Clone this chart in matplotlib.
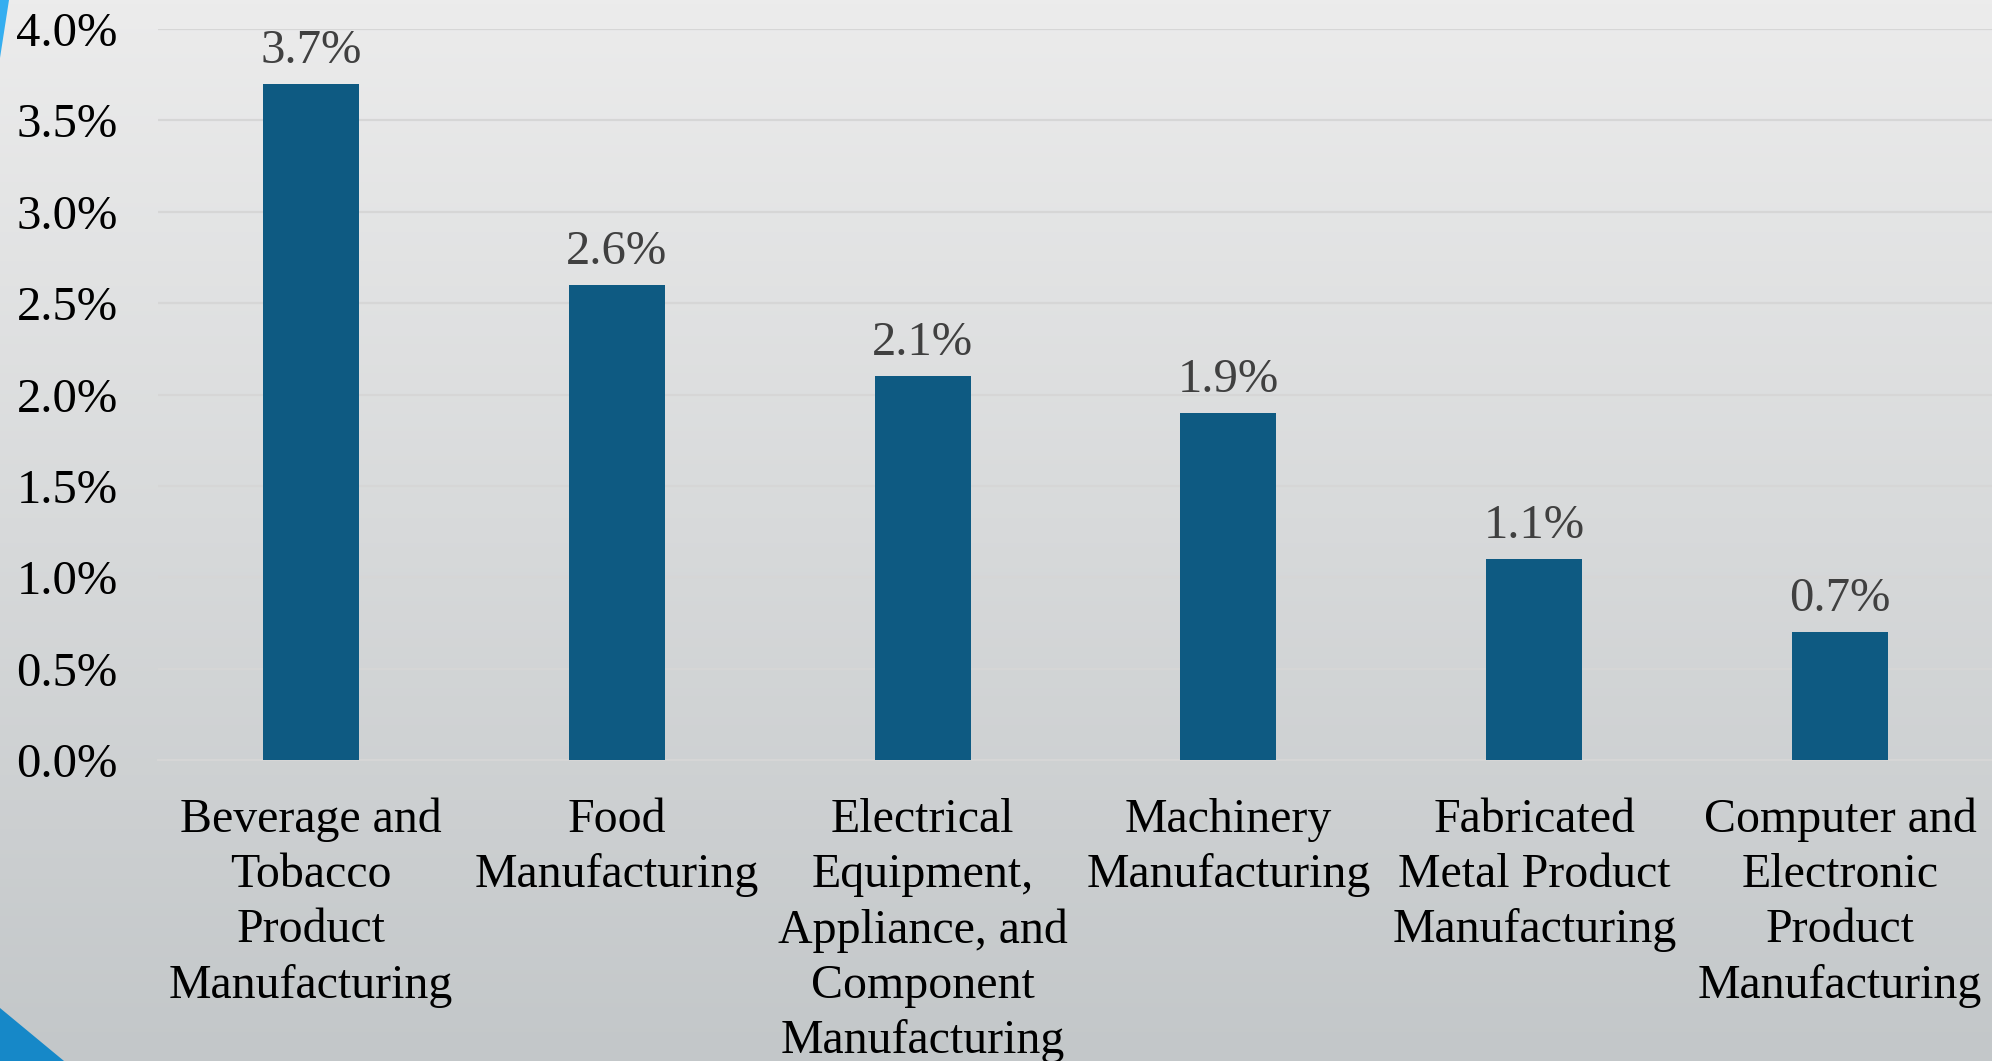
import numpy as np
import matplotlib
matplotlib.use("Agg")
import matplotlib.pyplot as plt
from matplotlib.patches import Polygon

categories = ["Beverage and\nTobacco\nProduct\nManufacturing",
              "Food\nManufacturing",
              "Electrical\nEquipment,\nAppliance, and\nComponent\nManufacturing",
              "Machinery\nManufacturing",
              "Fabricated\nMetal Product\nManufacturing",
              "Computer and\nElectronic\nProduct\nManufacturing"]
values = [3.7, 2.6, 2.1, 1.9, 1.1, 0.7]
yticks = [0.0, 0.5, 1.0, 1.5, 2.0, 2.5, 3.0, 3.5, 4.0]

plt.rcParams['font.family'] = ['Liberation Serif', 'DejaVu Serif']

W, H = 1992, 1061
fig = plt.figure(figsize=(W / 100, H / 100), dpi=100)

# background gradient
bg = fig.add_axes([0, 0, 1, 1], zorder=-10)
top = np.array([0xec, 0xec, 0xec]) / 255
bot = np.array([0xc3, 0xc7, 0xc9]) / 255
t = np.linspace(0, 1, 256)[:, None]
grad = top[None, :] * (1 - t) + bot[None, :] * t
img = np.repeat(grad[:, None, :], 4, axis=1)
bg.imshow(img, aspect='auto', extent=[0, 1, 0, 1], origin='upper')
bg.add_patch(Polygon([[0, 1], [9 / W, 1], [0, 1 - 58 / H]], closed=True,
                     color='#35aef0', lw=0))
bg.add_patch(Polygon([[0, 1 - 1008 / H], [64 / W, 0], [0, 0]], closed=True,
                     color='#1688c8', lw=0))
bg.set_xlim(0, 1)
bg.set_ylim(0, 1)
bg.axis('off')

ax = fig.add_axes([158 / W, 1 - 760 / H, (1993 - 158) / W, (760 - 29) / H])
ax.set_facecolor('none')
x = np.arange(len(categories))
ax.bar(x, values, width=0.314, color='#0e5a82', zorder=3)
ax.set_xlim(-0.5, len(categories) - 0.5)
ax.set_ylim(0, 4.0)
ax.set_yticks(yticks)
ax.set_yticklabels([f"{v:.1f}%" for v in yticks])
ax.yaxis.grid(True, color='#d6d6d6', lw=1.6, zorder=0)
for s in ['top', 'right', 'left']:
    ax.spines[s].set_visible(False)
ax.spines['bottom'].set_color('#d6d6d6')
ax.spines['bottom'].set_linewidth(1.6)
ax.tick_params(axis='y', length=0, pad=29, labelsize=35, labelcolor='black')
ax.set_xticks(x)
ax.set_xticklabels(categories, fontsize=34.5, linespacing=1.33, va='top')
ax.tick_params(axis='x', length=0, pad=27, labelcolor='black')

for xi, v in zip(x, values):
    ax.annotate(f"{v:.1f}%", (xi, v), xytext=(0, 15), textcoords='offset points',
                ha='center', va='baseline', fontsize=35, color='#404040')

fig.savefig('out.png', dpi=100)
